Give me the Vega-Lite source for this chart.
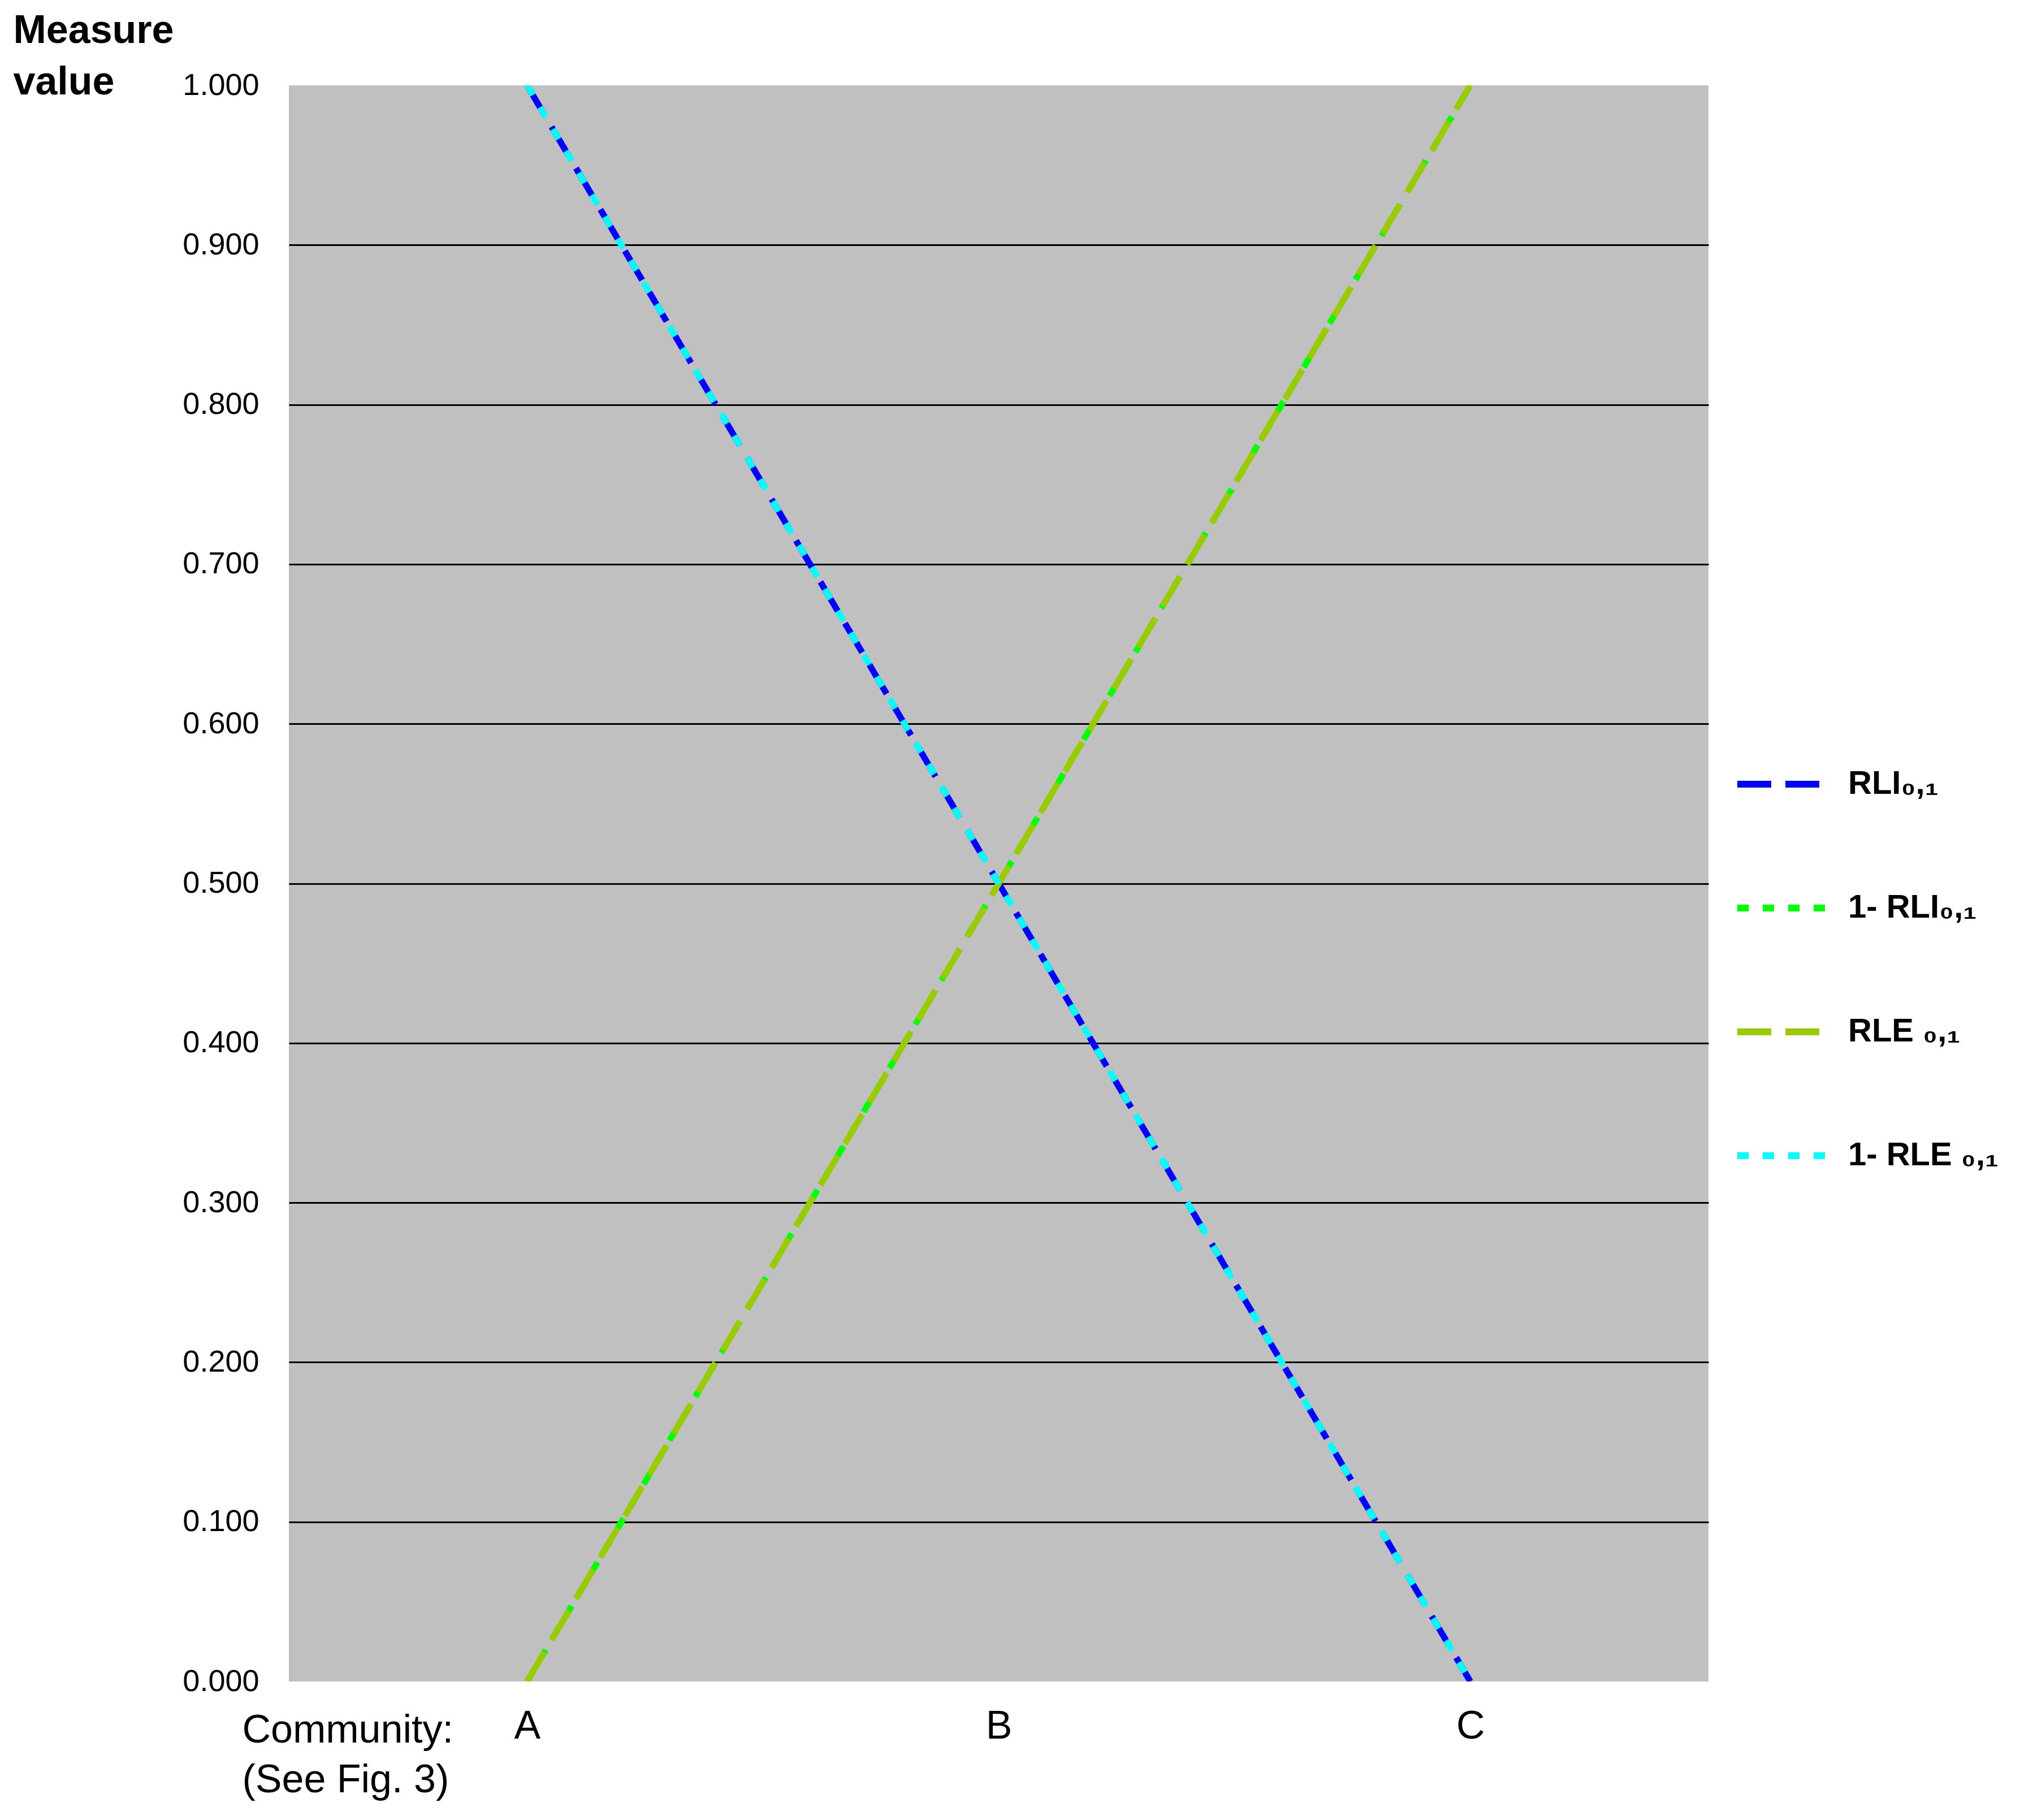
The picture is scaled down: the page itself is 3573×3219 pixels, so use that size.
{
  "$schema": "https://vega.github.io/schema/vega-lite/v6.json",
  "width": 2511,
  "height": 2823,
  "autosize": "none",
  "padding": {"left": 511, "top": 151, "right": 551, "bottom": 245},
  "background": "white",
  "config": {
    "view": {"fill": "#C0C0C0", "stroke": null},
    "font": "Liberation Sans"
  },
  "data": {
    "values": [
      {"community": "A", "series": "RLI", "value": 1.0},
      {"community": "B", "series": "RLI", "value": 0.5},
      {"community": "C", "series": "RLI", "value": 0.0},
      {"community": "A", "series": "1-RLI", "value": 0.0},
      {"community": "B", "series": "1-RLI", "value": 0.5},
      {"community": "C", "series": "1-RLI", "value": 1.0},
      {"community": "A", "series": "RLE", "value": 0.0},
      {"community": "B", "series": "RLE", "value": 0.5},
      {"community": "C", "series": "RLE", "value": 1.0},
      {"community": "A", "series": "1-RLE", "value": 1.0},
      {"community": "B", "series": "1-RLE", "value": 0.5},
      {"community": "C", "series": "1-RLE", "value": 0.0}
    ]
  },
  "mark": {"type": "line", "strokeWidth": 11, "clip": true},
  "encoding": {
    "x": {
      "field": "community",
      "type": "ordinal",
      "scale": {"type": "point", "padding": 0.505},
      "axis": {
        "title": ["Community:", "(See Fig. 3)"],
        "titleX": -83,
        "titleY": 107,
        "titleAlign": "left",
        "titleBaseline": "alphabetic",
        "titleAnchor": null,
        "titleFontSize": 70,
        "titleFontWeight": "normal",
        "titleLineHeight": 88,
        "titleFont": "Liberation Sans",
        "labelAngle": 0,
        "labelFontSize": 70,
        "labelBaseline": "alphabetic",
        "labelPadding": 100,
        "labelColor": "black",
        "ticks": false,
        "domain": false,
        "grid": false
      }
    },
    "y": {
      "field": "value",
      "type": "quantitative",
      "scale": {"domain": [0, 1], "nice": false},
      "axis": {
        "title": ["Measure", "value"],
        "titleAngle": 0,
        "titleX": -488,
        "titleY": -76,
        "titleAlign": "left",
        "titleBaseline": "alphabetic",
        "titleAnchor": null,
        "titleFontSize": 70,
        "titleFontWeight": "bold",
        "titleLineHeight": 91,
        "values": [0, 0.1, 0.2, 0.3, 0.4, 0.5, 0.6, 0.7, 0.8, 0.9, 1.0],
        "format": ".3f",
        "labelFontSize": 54,
        "labelColor": "black",
        "labelPadding": 53,
        "ticks": false,
        "domain": false,
        "grid": true,
        "gridWidth": 3,
        "gridColor": {"condition": {"test": "datum.value == 0 || datum.value == 1", "value": "transparent"}, "value": "black"},
        "gridOpacity": 1
      }
    },
    "color": {
      "field": "series",
      "type": "nominal",
      "sort": ["RLI", "1-RLI", "RLE", "1-RLE"],
      "scale": {
        "domain": ["RLI", "1-RLI", "RLE", "1-RLE"],
        "range": ["#0000FF", "#00FF00", "#99CC00", "#00FFFF"]
      },
      "legend": {
        "title": null,
        "orient": "none",
        "legendX": 2556,
        "legendY": 1150,
        "symbolType": "stroke",
        "symbolSize": 25600,
        "symbolStrokeWidth": 12,
        "labelFontSize": 58,
        "labelFontWeight": "bold",
        "labelColor": "black",
        "labelOffset": 30,
        "labelLimit": 0,
        "rowPadding": 104,
        "labelExpr": "datum.label == 'RLI' ? 'RLI₀,₁' : datum.label == '1-RLI' ? '1-  RLI₀,₁' : datum.label == 'RLE' ? 'RLE ₀,₁' : '1-  RLE ₀,₁'"
      }
    },
    "strokeDash": {
      "field": "series",
      "type": "nominal",
      "sort": ["RLI", "1-RLI", "RLE", "1-RLE"],
      "scale": {
        "domain": ["RLI", "1-RLI", "RLE", "1-RLE"],
        "range": [[60, 25], [20, 25], [60, 25], [20, 25]]
      },
      "legend": {
        "title": null,
        "orient": "none",
        "legendX": 2556,
        "legendY": 1150,
        "symbolType": "stroke",
        "symbolSize": 25600,
        "symbolStrokeWidth": 12,
        "labelFontSize": 58,
        "labelFontWeight": "bold",
        "labelColor": "black",
        "labelOffset": 30,
        "labelLimit": 0,
        "rowPadding": 104,
        "labelExpr": "datum.label == 'RLI' ? 'RLI₀,₁' : datum.label == '1-RLI' ? '1-  RLI₀,₁' : datum.label == 'RLE' ? 'RLE ₀,₁' : '1-  RLE ₀,₁'"
      }
    }
  }
}
